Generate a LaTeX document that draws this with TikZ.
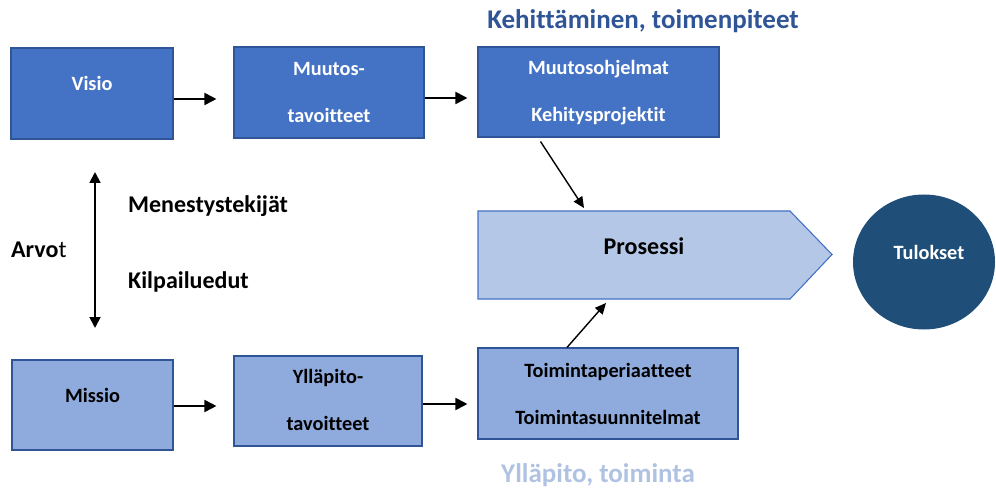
\documentclass[tikz,border=0pt]{standalone}
\usepackage{fontspec}
\setmainfont{Carlito}[Ligatures=NoCommon]
\usetikzlibrary{arrows.meta,calc,shapes.geometric}
\definecolor{dkblue}{HTML}{4472C4}
\definecolor{ltblue}{HTML}{8FAADC}
\definecolor{paleblue}{HTML}{B4C7E7}
\definecolor{edgeblue}{HTML}{2F5597}
\definecolor{navy}{HTML}{1F4E79}
\definecolor{titleblue}{HTML}{2F5597}
\definecolor{softblue}{HTML}{B0C2E2}
\begin{document}
\begin{tikzpicture}[x=1pt,y=-1pt,
  box/.style={draw=edgeblue, line width=1.1pt, inner sep=0pt},
  darkbox/.style={box, fill=dkblue},
  lightbox/.style={box, fill=ltblue},
  boxtxt/.style={font=\fontsize{20.3}{47}\selectfont\bfseries, align=center, inner sep=0pt},
  sidetxt/.style={font=\fontsize{24}{28}\selectfont\bfseries, inner sep=0pt},
  headtxt/.style={font=\fontsize{27}{32}\selectfont\bfseries, inner sep=0pt},
  conn/.style={line width=1.8pt, -{Triangle[length=12pt,width=12pt]}},
  thinconn/.style={line width=1.4pt, -{Triangle[length=11pt,width=10pt]}},
  dblconn/.style={line width=1.8pt, {Triangle[length=11pt,width=11pt]}-{Triangle[length=11pt,width=11pt]}}]
\useasboundingbox (0,0) rectangle (996,489);

% headings
\node[headtxt, text=titleblue] (dev) at (643,21) {Kehittäminen, toimenpiteet};
\node[headtxt, text=softblue] (run) at (598,475) {Ylläpito, toiminta};

% upper row
\node[darkbox, minimum width=162pt, minimum height=91pt] (visio) at (92,93.5) {};
\node[boxtxt, text=white] (visioT) at (92,83) {Visio};
\node[darkbox, minimum width=190pt, minimum height=91pt] (muutos) at (329,92.5) {};
\node[boxtxt, text=white] (muutosT) at (329,92.5) {Muutos-\\tavoitteet};
\node[darkbox, minimum width=241pt, minimum height=90pt] (mo) at (598.5,92) {};
\node[boxtxt, text=white] (moT) at (598.5,92.5) {Muutosohjelmat\\Kehitysprojektit};

% lower row
\node[lightbox, minimum width=161pt, minimum height=90pt] (missio) at (92.5,405) {};
\node[boxtxt] (missioT) at (92.5,395) {Missio};
\node[lightbox, minimum width=188pt, minimum height=90pt] (yllapito) at (328,401) {};
\node[boxtxt] (yllapitoT) at (328,400) {Ylläpito-\\tavoitteet};
\node[lightbox, minimum width=260pt, minimum height=91pt] (toim) at (608,393.5) {};
\node[boxtxt] (toimT) at (608,393.5) {Toimintaperiaatteet\\Toimintasuunnitelmat};

% process arrow shape
\coordinate (pA) at (478,211);
\coordinate (pB) at (790,211);
\coordinate (pC) at (832,254.5);
\coordinate (pD) at (790,299);
\coordinate (pE) at (478,299);
\draw[draw=dkblue, line width=1.1pt, fill=paleblue, line join=miter] (pA) -- (pB) -- (pC) -- (pD) -- (pE) -- cycle;
\node[sidetxt] (proc) at (644,246) {Prosessi};
\coordinate (procIn) at (584,208);
\coordinate (procOut) at (606,303);

% results
\node[ellipse, fill=navy, minimum width=142pt, minimum height=135pt, inner sep=0pt] (tulos) at (924,262) {};
\node[boxtxt, text=white] (tulosT) at (929,252) {Tulokset};

% side labels
\coordinate (vtop) at (95,172);
\coordinate (vbot) at (95,328);
\node[sidetxt, anchor=west] (menes) at (128,206) {Menestystekijät};
\node[sidetxt, anchor=west] (kilp) at (128,282) {Kilpailuedut};
\node[sidetxt, anchor=west] (arvot) at (11,250) {\textbf{Arvo}\mdseries t};

% connectors
\draw[conn, shorten >=17pt] ([yshift=-5.5pt]visio.east) -- ([yshift=-5.5pt]visio.east -| muutos.west);
\draw[conn, shorten >=10pt] ([yshift=-5.5pt]muutos.east) -- ([yshift=-5.5pt]muutos.east -| mo.west);
\draw[conn, shorten >=17pt] ([yshift=-1pt]missio.east) -- ([yshift=-1pt]missio.east -| yllapito.west);
\draw[conn, shorten >=10pt] ([yshift=-3pt]yllapito.east) -- ([yshift=-3pt]yllapito.east -| toim.west);
\draw[dblconn] (vtop) -- (vbot);
\draw[thinconn] ([xshift=-58pt,yshift=-4pt]mo.south) -- (procIn);
\draw[thinconn] ([xshift=-41pt]toim.north) -- (procOut);
\end{tikzpicture}
\end{document}
